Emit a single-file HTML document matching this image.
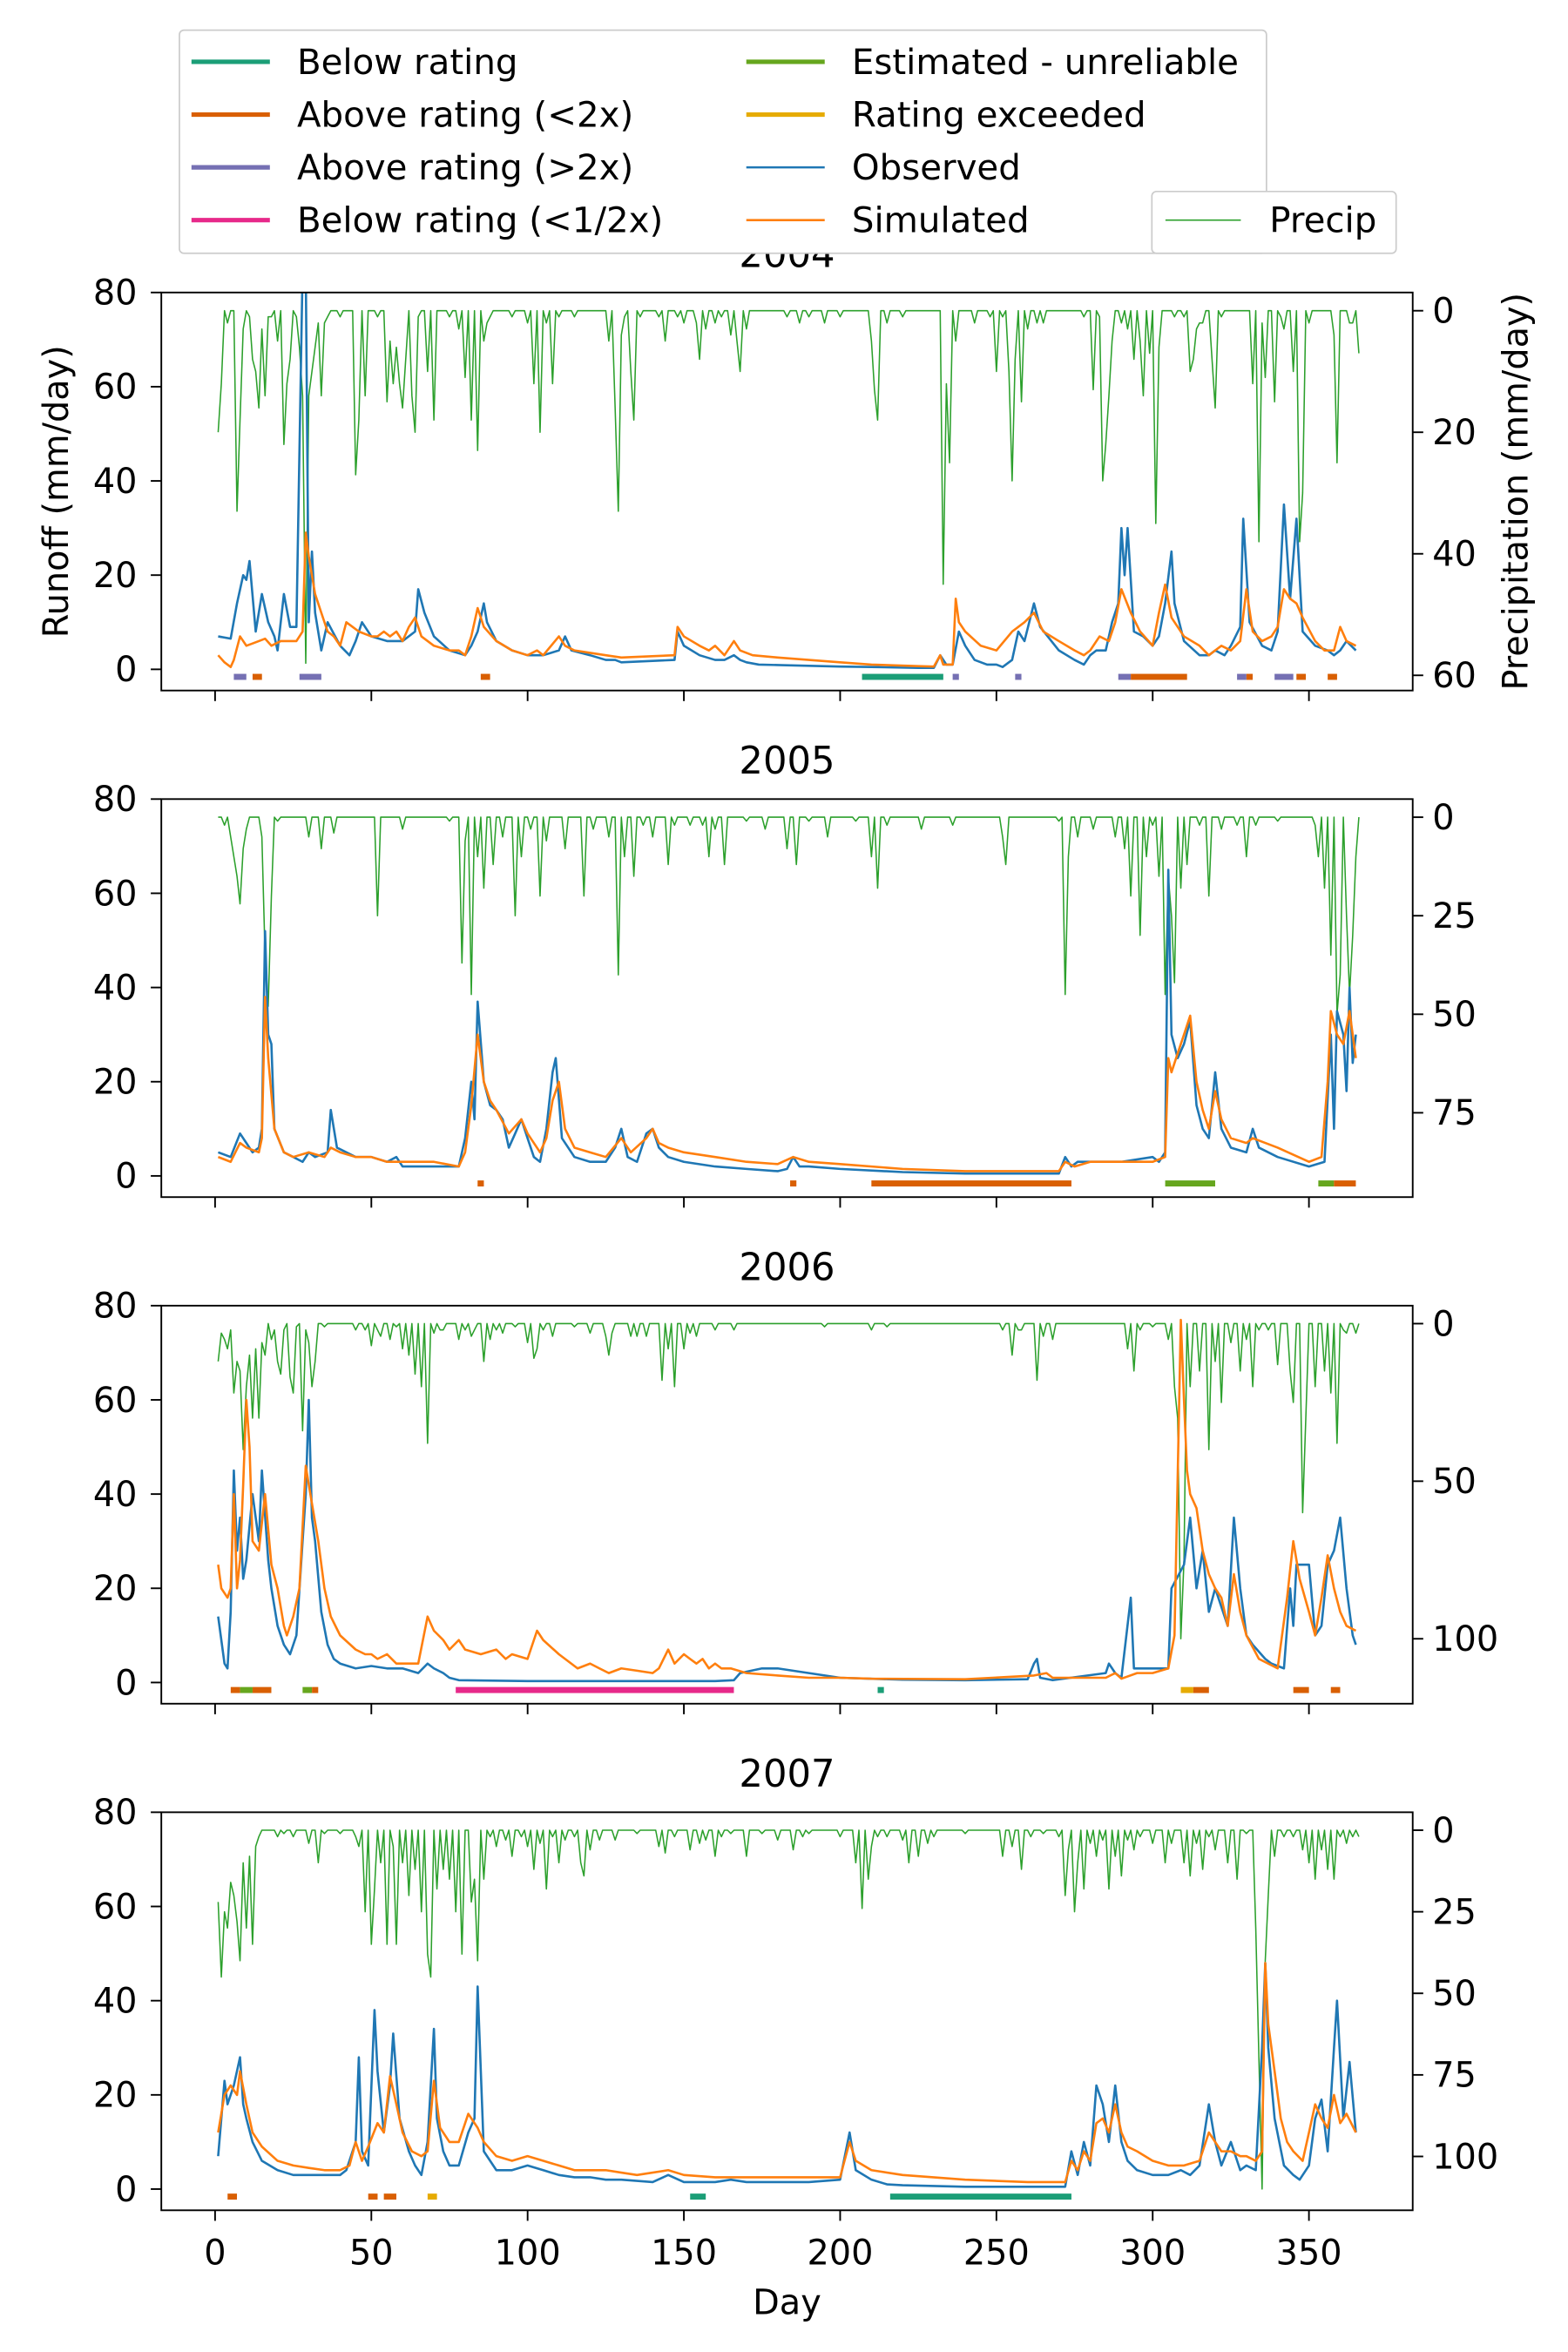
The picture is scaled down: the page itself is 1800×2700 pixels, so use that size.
<!DOCTYPE html>
<html><head><meta charset="utf-8"><style>
html,body{margin:0;padding:0;background:#fff}
svg{display:block}
text{font-family:"DejaVu Sans","Liberation Sans",sans-serif;fill:#000}
</style></head><body>
<svg id="chart" width="1800" height="2700" viewBox="0 0 1040 1560" xmlns="http://www.w3.org/2000/svg">
<rect width="1040" height="1560" fill="#fff"/>
<g id="legend">
<rect x="119" y="20" width="721" height="148" fill="#fff" stroke="#ccc" stroke-width="1" rx="3"/>
<g><line x1="127" y1="41" x2="179" y2="41" stroke="#1b9e77" stroke-width="3"/><text x="197" y="49" font-size="23.3">Below rating</text></g>
<g><line x1="127" y1="76" x2="179" y2="76" stroke="#d95f02" stroke-width="3"/><text x="197" y="84" font-size="23.3">Above rating (&lt;2x)</text></g>
<g><line x1="127" y1="111" x2="179" y2="111" stroke="#7570b3" stroke-width="3"/><text x="197" y="119" font-size="23.3">Above rating (&gt;2x)</text></g>
<g><line x1="127" y1="146" x2="179" y2="146" stroke="#e7298a" stroke-width="3"/><text x="197" y="154" font-size="23.3">Below rating (&lt;1/2x)</text></g>
<g><line x1="495" y1="41" x2="547" y2="41" stroke="#66a61e" stroke-width="3"/><text x="565" y="49" font-size="23.3">Estimated - unreliable</text></g>
<g><line x1="495" y1="76" x2="547" y2="76" stroke="#e6ab02" stroke-width="3"/><text x="565" y="84" font-size="23.3">Rating exceeded</text></g>
<g><line x1="495" y1="111" x2="547" y2="111" stroke="#1f77b4" stroke-width="1.5"/><text x="565" y="119" font-size="23.3">Observed</text></g>
<g><line x1="495" y1="146" x2="547" y2="146" stroke="#ff7f0e" stroke-width="1.5"/><text x="565" y="154" font-size="23.3">Simulated</text></g>
</g>
<g id="panels"></g>
<g id="plegend">
<rect x="764" y="127" width="162" height="41" fill="#fff" stroke="#ccc" stroke-width="1" rx="3"/>
<line x1="773" y1="146" x2="823" y2="146" stroke="#2ca02c" stroke-width="0.9"/>
<text x="842" y="154" font-size="23.3">Precip</text>
</g>
<text transform="translate(45,326) rotate(-90)" text-anchor="middle" font-size="23">Runoff (mm/day)</text>
<text transform="translate(1013,326) rotate(-90)" text-anchor="middle" font-size="23">Precipitation (mm/day)</text>
<text x="522" y="1535" text-anchor="middle" font-size="23">Day</text>
</svg>
<script>
const years=["2004","2005","2006","2007"];
const xTicks=[0,50,100,150,200,250,300,350];
const yTicks=[0,20,40,60,80];
const pTicks2004=[0,20,40,60];
const pTicks2005=[0,25,50,75];
const pTicks2006=[0,50,100];
const pTicks2007=[0,25,50,75,100];
const flagColors={br:"#1b9e77",a2:"#d95f02",ag:"#7570b3",bh:"#e7298a",est:"#66a61e",ex:"#e6ab02"};

const obs2004=[[1,7],[5,6.5],[7,14],[9,20],[10,19],[11,23],[13,8],[15,16],[17,10],[19,7],[20,4],[22,16],[24,9],[26,9],[28,85],[29,85],[30,10],[31,25],[32,12],[34,4],[36,10],[40,5],[43,3],[45,6],[47,10],[50,7],[55,6],[60,6],[64,8],[65,17],[67,12],[70,7],[75,4],[80,3],[82,5],[84,8],[86,14],[87,10],[90,6],[95,4],[100,3],[105,3],[110,4],[112,7],[114,4],[120,3],[125,2],[128,2],[130,1.5],[147,2],[148,8],[150,5],[155,3],[160,2],[163,2],[166,3],[168,2],[170,1.5],[174,1],[180,0.9],[200,0.6],[210,0.5],[225,0.3],[230,0.3],[232,3],[234,1],[236,1],[238,8],[240,5],[243,2],[247,1],[250,1],[252,0.5],[255,2],[257,8],[259,6],[262,14],[264,9],[270,4],[275,2],[278,1],[280,3],[282,4],[285,4],[287,10],[289,14],[290,30],[291,20],[292,30],[294,8],[297,7],[300,5],[302,7],[304,14],[306,25],[307,14],[310,6],[315,3],[318,3],[320,4],[323,3],[325,5],[328,9],[329,32],[331,10],[335,5],[338,4],[340,8],[342,35],[344,15],[346,32],[348,8],[352,5],[356,4],[358,3],[360,4],[362,6],[365,4]];
const sim2004=[[1,3],[3,1.5],[5,0.5],[6,2],[8,7],[10,5],[12,5.5],[14,6],[16,6.5],[18,5],[21,6],[24,6],[26,6],[28,8],[29,29],[30,24],[32,16],[34,12],[36,8],[38,7],[40,5],[42,10],[44,9],[46,8],[50,7],[52,7],[54,8],[56,7],[58,8],[60,6],[62,9],[64,11],[66,7],[70,5],[75,4],[78,4],[80,3],[82,7],[84,13],[86,9],[90,6],[95,4],[100,3],[103,4],[105,3],[110,7],[112,5],[115,4],[120,3.5],[125,3],[130,2.5],[147,3],[148,9],[150,7],[155,5],[158,4],[160,5],[163,3],[166,6],[168,4],[172,3],[180,2.5],[200,1.5],[210,1],[225,0.7],[230,0.6],[232,3],[233,1],[236,1],[237,15],[238,10],[240,8],[245,5],[250,4],[255,8],[259,10],[262,12],[265,8],[270,6],[275,4],[278,3],[280,4],[283,7],[286,6],[288,10],[290,17],[293,12],[296,8],[300,5],[302,12],[304,18],[306,11],[310,7],[315,5],[318,3],[320,4],[322,5],[325,4],[328,6],[330,17],[332,8],[335,6],[338,7],[340,9],[342,17],[344,15],[346,14],[348,11],[352,6],[355,4],[358,4],[360,9],[362,6],[365,5]];
const prec2004=[[1,20],[2,12],[4,2],[7,33],[8,18],[9,3],[11,1],[12,8],[13,10],[14,16],[15,3],[16,14],[17,1],[18,1],[20,5],[22,22],[23,12],[24,8],[26,1],[27,6],[28,14],[29,58],[30,14],[31,10],[32,6],[33,2],[34,14],[35,2],[36,1],[40,1],[45,27],[46,18],[48,14],[52,1],[55,15],[56,5],[57,12],[58,6],[59,12],[60,16],[61,8],[63,14],[64,20],[65,1],[68,10],[70,18],[75,1],[78,3],[80,11],[82,18],[84,23],[86,5],[87,2],[88,1],[95,1],[100,2],[102,12],[104,20],[106,2],[108,12],[110,1],[115,1],[126,5],[128,16],[129,33],[130,4],[131,1],[133,10],[134,18],[136,1],[142,1],[144,5],[148,1],[150,2],[154,2],[155,8],[157,3],[160,2],[162,1],[165,4],[167,5],[168,10],[170,3],[183,1],[187,2],[190,1],[195,2],[200,1],[210,5],[211,13],[212,18],[215,2],[220,1],[233,45],[234,12],[235,25],[237,5],[243,2],[248,1],[250,10],[252,1],[254,10],[255,28],[256,8],[258,15],[260,3],[263,2],[265,2],[278,1],[281,13],[283,1],[284,28],[285,22],[286,14],[287,5],[290,2],[292,3],[294,8],[296,5],[297,14],[299,7],[301,35],[302,6],[307,1],[310,1],[312,10],[313,8],[314,3],[315,2],[316,2],[319,8],[320,16],[322,1],[332,12],[334,38],[335,2],[336,11],[339,15],[341,1],[342,3],[345,10],[347,38],[348,30],[350,2],[358,4],[359,25],[363,2],[364,2],[366,7]];
const flags2004=[["ag",6,10],["a2",12,15],["ag",27,34],["a2",85,88],["br",207,233],["ag",236,238],["ag",256,258],["ag",289,293],["a2",293,311],["ag",327,330],["a2",330,332],["ag",339,345],["a2",346,349],["a2",356,359]];

const obs2005=[[1,5],[5,4],[8,9],[10,7],[12,5],[14,6],[15,10],[16,52],[17,30],[18,28],[19,10],[22,5],[25,4],[28,3],[30,5],[32,4],[36,5],[37,14],[39,6],[42,5],[45,4],[50,4],[55,3],[58,4],[60,2],[70,2],[78,2],[80,8],[82,20],[83,12],[84,37],[86,20],[88,15],[90,14],[92,12],[94,6],[96,9],[98,12],[100,8],[102,4],[104,3],[106,10],[108,22],[109,25],[111,8],[115,4],[120,3],[125,3],[128,6],[130,10],[132,4],[135,3],[138,9],[140,10],[142,6],[145,4],[150,3],[160,2],[170,1.5],[180,1],[183,1.5],[185,4],[187,2],[190,2],[200,1.5],[220,0.8],[240,0.5],[270,0.5],[272,4],[274,2],[276,3],[280,3],[290,3],[300,4],[302,3],[304,5],[305,65],[306,30],[308,25],[310,28],[312,33],[314,15],[316,10],[318,8],[320,22],[322,10],[325,6],[330,5],[332,10],[334,6],[340,4],[350,2],[355,3],[357,30],[358,10],[359,35],[361,30],[362,18],[363,40],[364,24],[365,30]];
const sim2005=[[1,4],[5,3],[8,7],[10,6],[14,5],[15,8],[16,38],[17,25],[19,10],[22,5],[25,4],[30,5],[35,4],[37,6],[40,5],[45,4],[50,4],[55,3],[60,3],[70,3],[78,2],[80,5],[82,15],[84,30],[86,20],[88,16],[90,14],[94,9],[98,12],[100,9],[104,5],[106,8],[108,16],[110,20],[112,10],[115,6],[120,5],[125,4],[130,8],[133,5],[138,8],[140,10],[142,7],[145,6],[150,5],[160,4],[170,3],[180,2.5],[185,4],[190,3],[200,2.5],[220,1.5],[240,1],[270,1],[272,3],[275,2],[280,3],[290,3],[300,3],[304,4],[305,25],[306,22],[308,26],[310,30],[312,34],[314,20],[316,14],[318,10],[320,18],[322,12],[325,8],[330,7],[332,8],[340,6],[350,3],[354,4],[356,20],[357,35],[359,30],[361,28],[363,35],[365,25]];
const prec2005=[[3,2],[5,5],[6,10],[7,15],[8,22],[9,8],[10,3],[15,5],[16,35],[17,48],[18,20],[20,1],[30,5],[34,8],[38,4],[52,25],[60,3],[75,1],[79,37],[80,6],[82,45],[84,10],[86,18],[89,12],[92,5],[96,25],[98,10],[101,3],[104,20],[106,6],[112,8],[118,20],[121,3],[126,5],[129,40],[131,10],[134,15],[137,2],[140,5],[145,12],[147,2],[152,2],[156,2],[158,10],[160,3],[163,12],[170,1],[176,3],[183,8],[186,12],[190,1],[196,5],[205,1],[210,10],[212,18],[215,2],[226,3],[236,2],[252,5],[253,12],[270,1],[272,45],[273,10],[276,5],[281,3],[288,5],[291,8],[293,20],[296,30],[298,10],[300,2],[302,15],[304,45],[305,15],[306,25],[307,42],[309,18],[311,12],[315,2],[318,20],[322,3],[327,2],[330,10],[333,2],[340,1],[352,2],[353,10],[355,18],[357,35],[359,50],[360,40],[362,25],[363,45],[364,30],[365,10]];
const flags2005=[["a2",84,86],["a2",184,186],["a2",210,274],["est",304,320],["est",353,358],["a2",358,365]];

const obs2006=[[1,14],[3,4],[4,3],[5,15],[6,45],[7,28],[8,35],[9,22],[10,26],[12,40],[14,30],[15,45],[17,26],[18,20],[20,12],[22,8],[24,6],[26,10],[28,30],[29,40],[30,60],[31,35],[32,30],[34,15],[36,8],[38,5],[40,4],[45,3],[50,3.5],[55,3],[60,3],[65,2],[68,4],[70,3],[73,2],[75,1],[78,0.5],[100,0.3],[150,0.3],[160,0.3],[166,0.5],[168,2],[175,3],[180,3],[190,2],[200,1],[220,0.6],[240,0.5],[260,0.7],[262,4],[263,5],[264,1],[268,0.5],[285,2],[286,4],[288,2],[290,1],[293,18],[294,3],[296,3],[305,3],[306,20],[310,25],[312,35],[314,20],[316,28],[318,15],[320,20],[324,12],[326,35],[328,20],[330,10],[332,8],[336,5],[338,4],[342,3],[344,20],[345,12],[346,25],[350,25],[352,10],[354,12],[356,25],[358,28],[360,35],[362,20],[364,10],[365,8]];
const sim2006=[[1,25],[2,20],[4,18],[5,20],[6,40],[7,20],[8,26],[9,42],[10,60],[11,50],[12,30],[14,28],[16,40],[18,25],[20,20],[22,12],[23,10],[25,14],[27,20],[29,46],[30,42],[31,38],[33,30],[35,20],[37,14],[40,10],[45,7],[48,6],[50,6],[52,5],[55,6],[58,4],[60,4],[65,4],[68,14],[70,11],[73,9],[75,7],[78,9],[80,7],[85,6],[90,7],[93,5],[95,6],[100,5],[103,11],[105,9],[110,6],[112,5],[116,3],[120,4],[123,3],[126,2],[130,3],[135,2.5],[140,2],[142,3],[145,7],[147,4],[150,6],[152,5],[154,4],[156,5],[158,3],[160,4],[162,3],[165,3],[170,2],[180,1.5],[190,1],[200,1],[210,0.8],[240,0.7],[262,1.5],[266,2],[268,1],[285,1],[288,2],[290,0.8],[295,2],[298,2],[300,2],[305,3],[307,10],[309,77],[310,60],[311,45],[312,40],[314,37],[316,28],[318,23],[320,20],[322,18],[324,12],[326,23],[328,15],[330,10],[334,5],[340,3],[343,18],[345,30],[347,22],[350,15],[352,10],[354,18],[356,27],[358,20],[360,15],[362,12],[365,11]];
const prec2006=[[1,12],[2,3],[3,5],[4,8],[5,2],[6,22],[7,12],[8,15],[9,40],[10,20],[11,10],[12,30],[13,8],[14,30],[15,6],[16,10],[18,5],[19,2],[20,12],[21,16],[22,2],[24,17],[25,22],[26,1],[28,34],[29,2],[30,6],[31,20],[32,12],[35,1],[45,2],[48,2],[50,7],[52,2],[53,4],[56,5],[58,1],[60,8],[62,10],[64,16],[66,20],[68,38],[70,3],[72,2],[73,2],[78,5],[80,2],[82,4],[83,2],[86,12],[88,5],[90,2],[92,3],[96,1],[100,6],[102,11],[103,8],[105,2],[108,4],[115,1],[120,3],[125,4],[126,10],[127,3],[133,4],[135,4],[138,4],[143,18],[145,8],[147,20],[150,8],[152,3],[154,4],[160,2],[166,2],[195,1],[210,2],[215,1],[252,2],[255,10],[257,2],[258,2],[263,18],[265,4],[268,5],[292,8],[294,15],[296,2],[300,1],[305,5],[307,20],[308,30],[309,100],[310,75],[312,20],[315,15],[318,40],[320,12],[322,25],[325,6],[328,15],[330,5],[332,20],[334,2],[337,2],[340,13],[344,15],[345,25],[348,60],[349,30],[352,20],[355,15],[357,22],[359,38],[361,2],[362,3],[365,3]];
const flags2006=[["a2",5,8],["est",8,12],["a2",12,18],["est",28,31],["a2",31,33],["bh",77,166],["br",212,214],["ex",309,313],["a2",313,318],["a2",345,350],["a2",357,360]];

const obs2007=[[1,7],[3,23],[4,18],[6,22],[8,28],[9,18],[10,15],[12,10],[15,6],[20,4],[25,3],[30,3],[35,3],[40,3],[42,4],[45,10],[46,28],[47,8],[49,5],[51,38],[52,25],[54,12],[56,22],[57,33],[59,15],[62,8],[64,5],[66,3],[68,10],[70,34],[71,15],[73,8],[75,5],[78,5],[81,12],[83,15],[84,43],[86,8],[90,4],[95,4],[100,5],[105,4],[110,3],[115,2.5],[120,2.5],[125,2],[130,2],[140,1.5],[145,3],[150,1.5],[160,1.5],[165,2],[170,1.5],[180,1.5],[190,1.5],[200,2],[203,12],[205,4],[210,2],[215,1],[220,0.8],[240,0.5],[260,0.5],[272,0.5],[274,8],[276,3],[278,10],[280,5],[282,22],[284,18],[286,10],[288,22],[290,10],[292,6],[295,4],[300,3],[305,3],[309,4],[312,3],[315,5],[318,18],[320,10],[322,5],[325,10],[328,4],[330,5],[333,4],[335,30],[336,48],[337,30],[339,15],[342,5],[345,3],[347,2],[350,5],[352,15],[354,19],[356,8],[358,30],[359,40],[361,15],[363,27],[365,12]];
const sim2007=[[1,12],[3,20],[5,22],[7,20],[8,25],[10,18],[12,12],[15,9],[20,6],[25,5],[30,4.5],[35,4],[40,4],[43,5],[45,10],[47,6],[49,9],[52,14],[54,12],[56,24],[58,18],[60,12],[63,8],[66,7],[68,8],[70,23],[72,13],[75,10],[78,10],[81,16],[84,13],[86,10],[90,7],[95,6],[100,7],[105,6],[110,5],[115,4],[120,4],[125,4],[130,3.5],[135,3],[145,4],[150,3],[160,2.5],[170,2.5],[180,2.5],[190,2.5],[200,2.5],[203,10],[205,6],[210,4],[220,3],[240,2],[260,1.5],[272,1.5],[274,6],[276,4],[278,8],[280,6],[282,14],[284,15],[286,12],[288,18],[290,12],[292,9],[295,8],[300,6],[305,5],[310,5],[315,6],[318,12],[320,10],[322,8],[325,8],[328,7],[330,7],[333,6],[335,8],[336,48],[337,35],[339,25],[341,15],[343,10],[345,8],[348,6],[350,12],[352,18],[354,15],[356,13],[358,20],[360,14],[362,16],[365,12]];
const prec2007=[[1,22],[2,45],[3,25],[4,30],[5,16],[6,20],[7,28],[8,40],[9,10],[10,30],[11,8],[12,35],[13,5],[14,2],[20,2],[22,1],[25,2],[30,4],[33,10],[35,1],[40,1],[45,2],[46,5],[48,25],[50,35],[51,18],[53,10],[55,35],[57,5],[58,35],[60,10],[62,20],[64,12],[66,25],[68,38],[69,45],[71,18],[73,12],[75,15],[77,25],[79,38],[82,22],[83,15],[84,40],[86,15],[88,2],[90,5],[93,3],[95,8],[98,2],[100,5],[102,12],[104,4],[106,18],[108,2],[110,10],[112,3],[115,2],[117,10],[118,14],[120,6],[123,3],[128,3],[135,1],[142,5],[144,7],[147,2],[152,6],[155,4],[157,3],[160,8],[162,2],[165,1],[170,8],[175,1],[180,3],[185,6],[188,2],[190,1],[200,2],[205,10],[207,24],[209,15],[210,5],[212,2],[215,2],[220,3],[222,10],[225,8],[228,4],[230,2],[240,1],[252,8],[255,5],[258,12],[261,2],[265,1],[270,2],[272,20],[273,6],[275,25],[276,10],[278,18],[280,4],[282,8],[284,3],[286,18],[288,8],[290,14],[292,3],[294,6],[296,2],[300,4],[304,10],[306,4],[310,10],[312,14],[314,4],[316,12],[318,2],[320,6],[324,10],[327,15],[330,1],[333,30],[334,70],[335,110],[336,40],[337,20],[339,8],[342,2],[345,2],[348,6],[350,10],[352,15],[354,6],[356,12],[358,15],[360,2],[362,4],[364,2],[366,2]];
const flags2007=[["a2",4,7],["a2",49,52],["a2",54,58],["ex",68,71],["br",152,157],["br",216,274]];

const panelTop=[194,530,866,1202];
const pDomain=[[-3,62.5],[-4.6,96.4],[-5.7,120.6],[-5.5,116.5]];
const pTicksAll=[pTicks2004,pTicks2005,pTicks2006,pTicks2007];
const obsAll=[obs2004,obs2005,obs2006,obs2007];
const simAll=[sim2004,sim2005,sim2006,sim2007];
const precAll=[prec2004,prec2005,prec2006,prec2007];
const flagsAll=[flags2004,flags2005,flags2006,flags2007];

const NS="http://www.w3.org/2000/svg";
const X0=107,X1=937,H=264,FS=23;
const xs=d=>X0+(d-(-17.2))/(383.2+17.2)*(X1-X0);
function mk(tag,attrs,parent){const e=document.createElementNS(NS,tag);for(const k in attrs)e.setAttribute(k,attrs[k]);parent.appendChild(e);return e;}
const root=document.getElementById('panels');
years.forEach((yr,i)=>{
  const top=panelTop[i],bot=top+H;
  const ys=v=>bot-(v-(-4.5))/(80+4.5)*H;
  const pd=pDomain[i];
  const ps=v=>top+(v-pd[0])/(pd[1]-pd[0])*H;
  const g=mk('g',{},root);
  
  
  const cp=mk('clipPath',{id:'cp'+i},g);
  mk('rect',{x:X0,y:top,width:X1-X0,height:H},cp);
  const plot=mk('g',{'clip-path':'url(#cp'+i+')'},g);
  const pm={};precAll[i].forEach(p=>pm[p[0]]=p[1]);
  let pts=[];for(let d=1;d<=366;d++){pts.push(xs(d).toFixed(1)+','+ps(pm[d]||0).toFixed(1));}
  const pl=mk('polyline',{points:pts.join(' '),fill:'none',stroke:'#2ca02c','stroke-width':0.9,'stroke-linejoin':'round'},plot);
  
  
  const ol=mk('polyline',{points:obsAll[i].map(p=>xs(p[0]).toFixed(1)+','+ys(p[1]).toFixed(1)).join(' '),fill:'none',stroke:'#1f77b4','stroke-width':1.5,'stroke-linejoin':'round'},plot);
  
  
  const sl=mk('polyline',{points:simAll[i].map(p=>xs(p[0]).toFixed(1)+','+ys(p[1]).toFixed(1)).join(' '),fill:'none',stroke:'#ff7f0e','stroke-width':1.5,'stroke-linejoin':'round'},plot);
  
  
  flagsAll[i].forEach(f=>{
    const r=mk('rect',{x:xs(f[1]),y:ys(-1.6)-2,width:Math.max(2,xs(f[2])-xs(f[1])),height:4,fill:flagColors[f[0]]},plot);
    
    
  });
  const fr=mk('rect',{x:X0,y:top,width:X1-X0,height:H,fill:'none',stroke:'#000','stroke-width':1.1},g);
  
  
  yTicks.forEach(t=>{
    mk('line',{x1:X0-7,x2:X0,y1:ys(t),y2:ys(t),stroke:'#000','stroke-width':1.1},g);
    const tx=mk('text',{x:X0-16,y:ys(t)+8,'text-anchor':'end','font-size':FS},g);tx.textContent=t;
    
    
  });
  pTicksAll[i].forEach(t=>{
    mk('line',{x1:X1,x2:X1+7,y1:ps(t),y2:ps(t),stroke:'#000','stroke-width':1.1},g);
    const tx=mk('text',{x:X1+13,y:ps(t)+8,'font-size':FS},g);tx.textContent=t;
    
    
  });
  xTicks.forEach(t=>{
    mk('line',{x1:xs(t),x2:xs(t),y1:bot,y2:bot+7,stroke:'#000','stroke-width':1.1},g);
    if(i===3){const tx=mk('text',{x:xs(t),y:bot+36,'text-anchor':'middle','font-size':FS},g);tx.textContent=t;
      
      }
  });
  const ti=mk('text',{x:522,y:top-17,'text-anchor':'middle','font-size':25},g);ti.textContent=yr;
  
  
});
const svg=document.getElementById('chart');
svg.appendChild(document.getElementById('legend'));
svg.appendChild(document.getElementById('plegend'));
</script>
</body></html>
